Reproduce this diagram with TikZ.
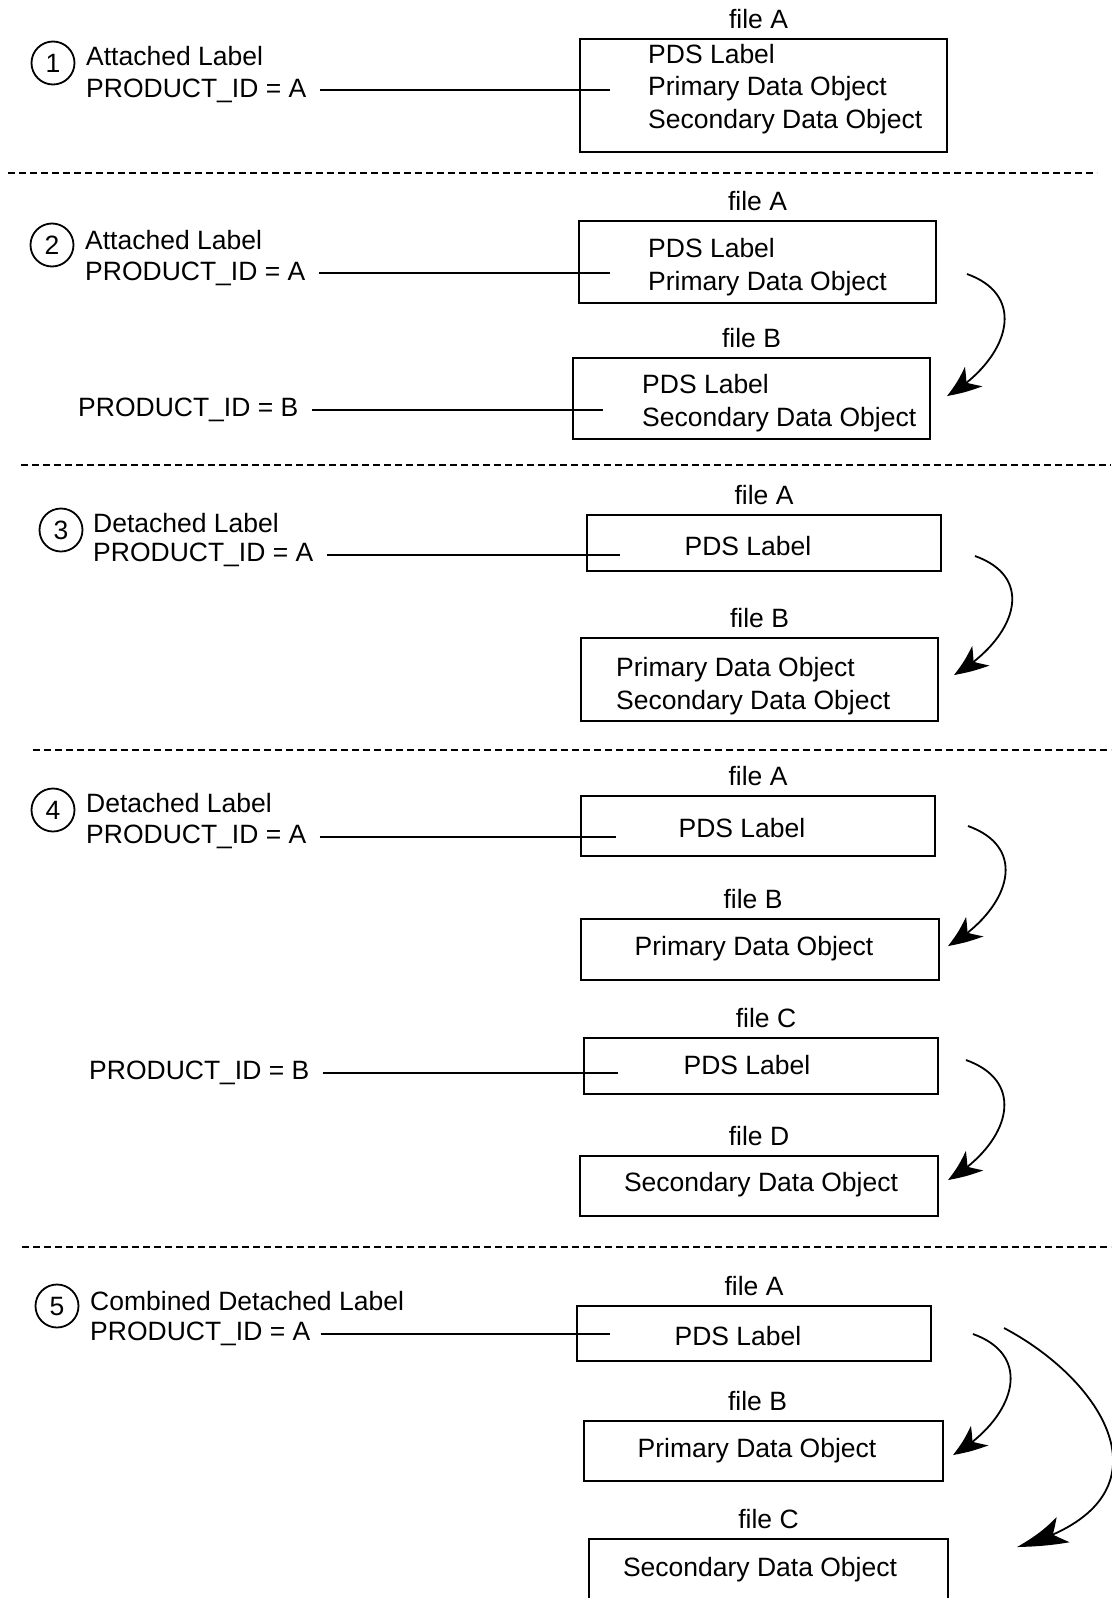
\documentclass[tikz,border=0pt]{standalone}
\usepackage{fontspec}
\setmainfont{Liberation Sans}
\usetikzlibrary{arrows.meta}
\usetikzlibrary{bending}
\usetikzlibrary{positioning}
\tikzstyle{filebox} = [rectangle, draw=black, line width=1.8pt, inner sep=0pt]
\tikzstyle{filename} = [inner sep=0pt]
\tikzstyle{content} = [inner sep=0pt, align=left]
\tikzstyle{caption} = [inner sep=0pt, anchor=base west]
\tikzstyle{casenum} = [circle, draw=black, line width=1.8pt, minimum size=43pt, inner sep=0pt]
\tikzstyle{link} = [line width=1.8pt]
\tikzstyle{arrow} = [line width=1.8pt, -{Stealth[length=34pt, width=26pt, inset=10pt, bend]}]
\tikzstyle{longarrow} = [line width=1.8pt, -{Stealth[length=55pt, width=28pt, inset=14pt, bend]}]
\tikzstyle{divider} = [line width=1.5pt, dash pattern=on 7pt off 4pt]

\begin{document}
\begin{tikzpicture}[x=1pt, y=-1pt, font=\fontsize{26.5}{32.6}\selectfont]
\useasboundingbox (0,0) rectangle (1111,1598);

\node [casenum] (c1) at (53,63) {1};
\node [caption] (t1) at (86,65) {Attached Label};
\node [caption] (p1) at (86,97) {PRODUCT\_ID = A};
\node [filebox, minimum width=367pt, minimum height=113pt] (f1a) at (763.5,95.5) {};
\node [filename, above=9pt of f1a, xshift=-5pt] (n1a) {file A};
\node [content, anchor=west] (d1a) at (648,89) {PDS Label\\Primary Data Object\\Secondary Data Object};
\coordinate (j1a) at (610,92);
\draw [link] ([xshift=13pt]p1.east) -- (p1.east -| j1a);

\draw [divider] (8,173) -- (1097,173);

\node [casenum] (c2) at (52,245) {2};
\node [caption] (t2) at (85,249) {Attached Label};
\node [caption] (p2a) at (85,280) {PRODUCT\_ID = A};
\node [filebox, minimum width=357pt, minimum height=82pt] (f2a) at (757.5,262) {};
\node [filename, above=9pt of f2a] (n2a) {file A};
\node [content, anchor=west] (d2a) at (648,267) {PDS Label\\Primary Data Object};
\node [filebox, minimum width=357pt, minimum height=81pt] (f2b) at (751.5,398.5) {};
\node [filename, above=9pt of f2b] (n2b) {file B};
\node [content, anchor=west] (d2b) at (642,403) {PDS Label\\Secondary Data Object};
\node [caption] (p2b) at (78,416.5) {PRODUCT\_ID = B};
\coordinate (j2a) at (610,274);
\coordinate (j2b) at (603,411);
\coordinate (s2) at (967,274);
\coordinate (e2) at (947,396);
\draw [link] ([xshift=13pt]p2a.east) -- (p2a.east -| j2a);
\draw [link] ([xshift=13pt]p2b.east) -- (p2b.east -| j2b);
\draw [arrow] (s2) .. controls +(64,23) and +(59,-34) .. (e2);

\draw [divider] (21,465) -- (1111,465);

\node [casenum] (c3) at (61,530) {3};
\node [caption] (t3) at (93,532) {Detached Label};
\node [caption] (p3) at (93,561.5) {PRODUCT\_ID = A};
\node [filebox, minimum width=354pt, minimum height=56pt] (f3a) at (764,543) {};
\node [filename, above=9pt of f3a] (n3a) {file A};
\node [content] (d3a) at (748,546) {PDS Label};
\node [filebox, minimum width=357pt, minimum height=83pt] (f3b) at (759.5,679.5) {};
\node [filename, above=9pt of f3b] (n3b) {file B};
\node [content, anchor=west] (d3b) at (616,686) {Primary Data Object\\Secondary Data Object};
\coordinate (j3) at (620,552);
\coordinate (s3) at (975,556);
\coordinate (e3) at (954,675);
\draw [link] ([xshift=13pt]p3.east) -- (p3.east -| j3);
\draw [arrow] (s3) .. controls +(64,23) and +(59,-34) .. (e3);

\draw [divider] (33,750) -- (1111,750);

\node [casenum] (c4) at (53,810) {4};
\node [caption] (t4) at (86,812) {Detached Label};
\node [caption] (p4a) at (86,843.5) {PRODUCT\_ID = A};
\node [filebox, minimum width=354pt, minimum height=60pt] (f4a) at (758,826) {};
\node [filename, above=9pt of f4a] (n4a) {file A};
\node [content] (d4a) at (742,828) {PDS Label};
\node [filebox, minimum width=358pt, minimum height=61pt] (f4b) at (760,949.5) {};
\node [filename, above=9pt of f4b, xshift=-7pt] (n4b) {file B};
\node [content] (d4b) at (754,949) {Primary Data Object};
\node [filebox, minimum width=354pt, minimum height=56pt] (f4c) at (761,1066) {};
\node [filename, above=9pt of f4c, xshift=5pt] (n4c) {file C};
\node [content] (d4c) at (747,1065) {PDS Label};
\node [filebox, minimum width=358pt, minimum height=60pt] (f4d) at (759,1186) {};
\node [filename, above=9pt of f4d] (n4d) {file D};
\node [content] (d4d) at (761,1185) {Secondary Data Object};
\node [caption] (p4b) at (89,1079.5) {PRODUCT\_ID = B};
\coordinate (j4a) at (616,838);
\coordinate (j4b) at (618,1070);
\coordinate (s4a) at (968,826);
\coordinate (e4a) at (948,946);
\coordinate (s4b) at (966,1060);
\coordinate (e4b) at (948,1180);
\draw [link] ([xshift=13pt]p4a.east) -- (p4a.east -| j4a);
\draw [link] ([xshift=13pt]p4b.east) -- (p4b.east -| j4b);
\draw [arrow] (s4a) .. controls +(64,23) and +(59,-34) .. (e4a);
\draw [arrow] (s4b) .. controls +(64,23) and +(59,-34) .. (e4b);

\draw [divider] (22,1247) -- (1111,1247);

\node [casenum] (c5) at (57,1306) {5};
\node [caption] (t5) at (90,1310) {Combined Detached Label};
\node [caption] (p5) at (90,1340.5) {PRODUCT\_ID = A};
\node [filebox, minimum width=354pt, minimum height=55pt] (f5a) at (754,1333.5) {};
\node [filename, above=9pt of f5a] (n5a) {file A};
\node [content] (d5a) at (738,1336) {PDS Label};
\node [filebox, minimum width=359pt, minimum height=60pt] (f5b) at (763.5,1451) {};
\node [filename, above=9pt of f5b, xshift=-6pt] (n5b) {file B};
\node [content] (d5b) at (757,1451) {Primary Data Object};
\node [filebox, minimum width=359pt, minimum height=60pt] (f5c) at (768.5,1569) {};
\node [filename, above=9pt of f5c] (n5c) {file C};
\node [content] (d5c) at (760,1570) {Secondary Data Object};
\coordinate (j5) at (610,1336);
\coordinate (s5a) at (973,1334);
\coordinate (e5a) at (953,1455);
\coordinate (s5b) at (1004,1328);
\coordinate (e5b) at (1017,1547);
\draw [link] ([xshift=10pt]p5.east) -- (p5.east -| j5);
\draw [arrow] (s5a) .. controls +(64,23) and +(59,-34) .. (e5a);
\draw [longarrow] (s5b) .. controls +(104,55) and +(163,-44) .. (e5b);

\end{tikzpicture}
\end{document}
